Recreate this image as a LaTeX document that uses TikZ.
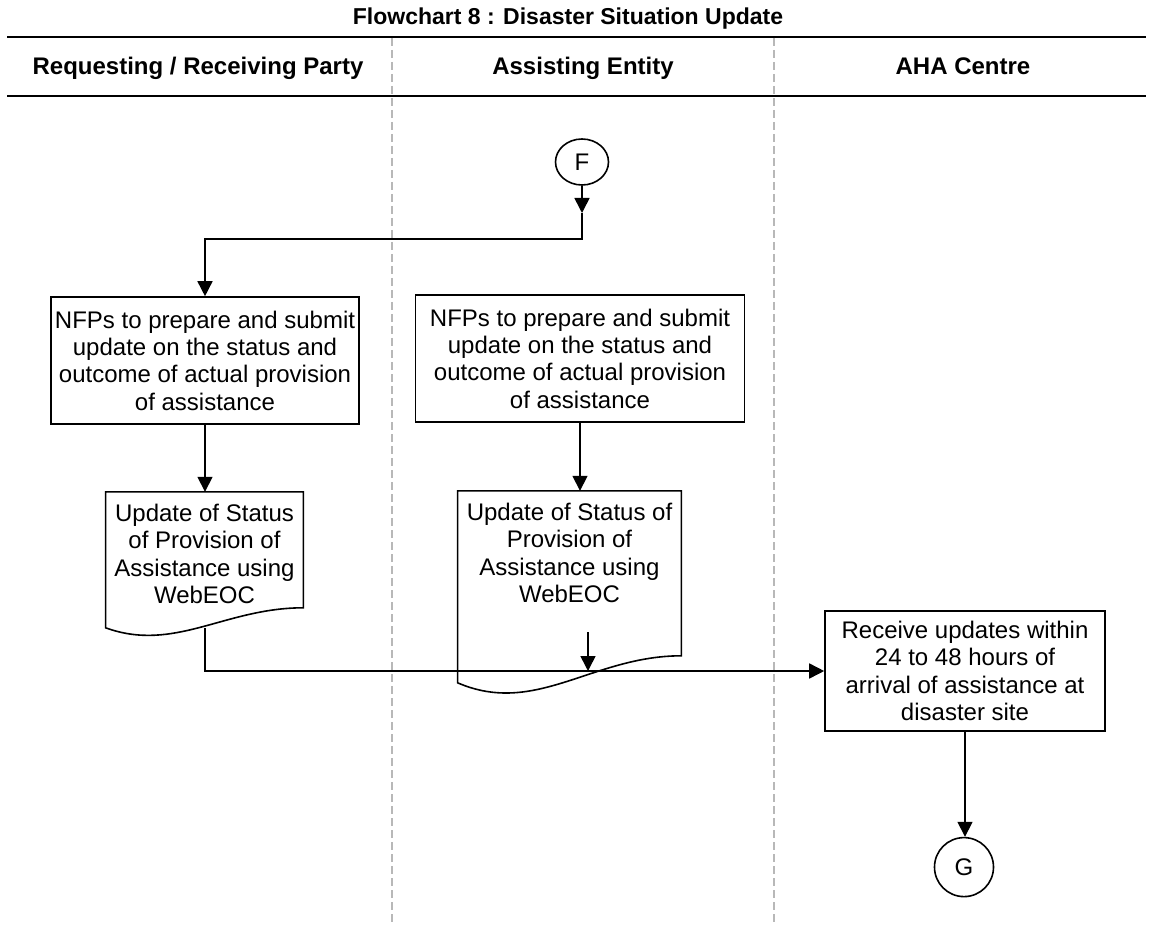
\documentclass[tikz,border=0pt]{standalone}
\usepackage{fontspec}
\setmainfont{Liberation Sans}
\usetikzlibrary{calc, positioning, arrows.meta, shapes.geometric}
\newcommand{\boxfont}{\fontsize{12}{13.65}\selectfont}
\newcommand{\headfont}{\fontsize{12}{14}\selectfont\bfseries}
\tikzset{
    boxnode/.style = {draw, rectangle, inner sep=0pt, align=center, line width=0.8pt, font=\boxfont},
    docnode/.style = {rectangle, inner xsep=0pt, inner ysep=6pt, align=center, font=\boxfont, anchor=north},
    docline/.style = {draw, line width=0.8pt},
    headnode/.style = {draw=none, fill=none, inner sep=0pt, anchor=base, font=\headfont},
    circlenode/.style = {circle, draw, inner sep=0pt, line width=0.8pt, minimum size=29.5pt, font=\boxfont},
    ellipsenode/.style = {ellipse, draw, inner sep=0pt, line width=0.8pt, minimum width=26.5pt, minimum height=23pt, font=\boxfont},
    connect/.style = {black, line width=0.8pt, -{Triangle[length=7.5pt, width=7.5pt]}},
    headrule/.style = {black, line width=1.4pt},
    lanedash/.style = {black!28, line width=0.6pt, dash pattern=on 4pt off 2pt}
}
% document outline: name, width, left drop, right drop
\newcommand{\docwave}[4]{%
  \draw[docline] (#1.north west) -- ($(#1.north west)+(0,#3)$)
    .. controls ($(#1.north west)+(0.35*#2,#3+1.25*#3-1.25*#4)$)
    and ($(#1.north east)+(-0.4*#2,#4)$) .. ($(#1.north east)+(0,#4)$)
    -- (#1.north east) -- cycle;}

\begin{document}
\begin{tikzpicture}[x=0.5pt, y=-0.5pt]
    \useasboundingbox (0,0) rectangle (1151,925);

    % title and swimlane header
    \node [headnode, font=\fontsize{11.5}{14}\selectfont\bfseries, name=title] at (568,25) {Flowchart 8 : Disaster Situation Update};
    \draw[headrule] (7,37) -- (1146,37);
    \draw[headrule] (7,96) -- (1146,96);
    \foreach \lx in {392, 774} \draw[lanedash] (\lx,38) -- (\lx,925);
    \node [headnode, name=lane1] at (198,75) {Requesting / Receiving Party};
    \node [headnode, name=lane2] at (583,75) {Assisting Entity};
    \node [headnode, name=lane3] at (963,75) {AHA Centre};

    % steps
    \node [ellipsenode, name=F] at (582,162) {F};
    \node [boxnode, name=box1, minimum width=154pt, minimum height=63.5pt] at (205,360.5)
        {NFPs to prepare and submit\\update on the status and\\outcome of actual provision\\of assistance};
    \node [boxnode, name=box2, minimum width=164.5pt, minimum height=63.5pt] at (580,358.5)
        {NFPs to prepare and submit\\update on the status and\\outcome of actual provision\\of assistance};
    \node [docnode, name=doc1, minimum width=98.5pt, below=33.5pt of box1, xshift=-0.25pt]
        {Update of Status\\of Provision of\\Assistance using\\WebEOC};
    \node [docnode, name=doc2, minimum width=111.5pt, below=34pt of box2, xshift=-5.25pt]
        {Update of Status of\\Provision of\\Assistance using\\WebEOC};
    \docwave{doc1}{197}{136}{116}
    \docwave{doc2}{223}{192}{165}
    \node [boxnode, name=receive, minimum width=140pt, minimum height=60pt] at (965,671)
        {Receive updates within\\24 to 48 hours of\\arrival of assistance at\\disaster site};
    \node [circlenode, name=G, below=52.5pt of receive, xshift=-0.5pt] {G};

    % connectors
    \coordinate (Fjoin) at (582,213);
    \coordinate (Fturn) at (582,239);
    \coordinate (doc1out) at (205,628);
    \coordinate (doc2tail) at (588,632);
    \coordinate (doc2tip) at (588,671);
    \draw[connect] (F) -- (Fjoin);
    \draw[connect] (Fjoin) -- (Fturn) -| (box1.north);
    \draw[connect] (box1.south) -- (box1.south |- doc1.north);
    \draw[connect] (box2.south) -- (box2.south |- doc2.north);
    \draw[connect] (doc1out) |- (receive.west);
    \draw[connect] (doc2tail) -- (doc2tip);
    \draw[connect] (receive.south) -- (receive.south |- G.north);
\end{tikzpicture}
\end{document}
